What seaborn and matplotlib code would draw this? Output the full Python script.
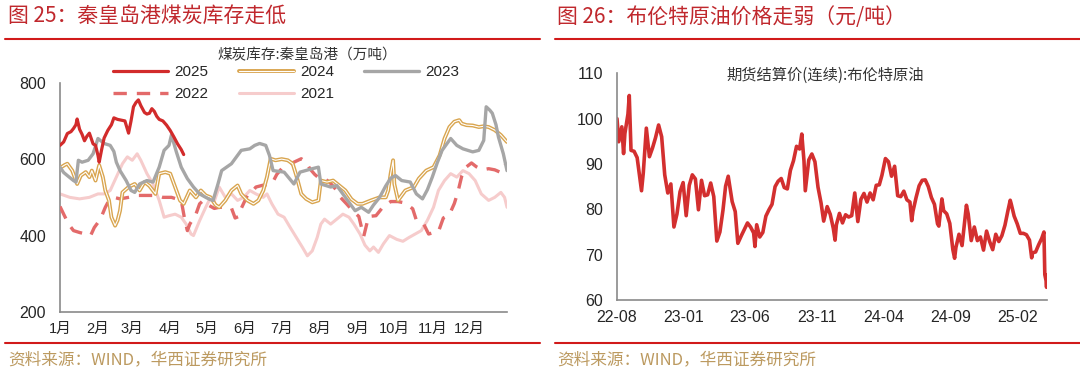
import pandas as pd
import numpy as np
import matplotlib
matplotlib.use('Agg')
import matplotlib.pyplot as plt
import matplotlib.patheffects as pe
from matplotlib.lines import Line2D
import seaborn as sns

sns.set_theme(style='white')
plt.rcParams['font.family'] = ['Liberation Sans', 'Noto Sans CJK SC', 'DejaVu Sans']

# ---- left chart: Qinhuangdao coal stock (10k t), by day of year ----
days_2025 = [0, 3, 6, 9, 11, 13, 14, 16, 18, 20, 22, 24, 27, 29, 31, 32, 34, 36, 39, 42, 44, 47, 50, 53, 56,
             58, 60, 62, 64, 66, 69, 71, 73, 75, 77, 79, 81, 84, 87, 90, 93, 96, 99, 101]
vals_2025 = [636, 645, 667, 672, 680, 690, 705, 678, 665, 648, 660, 668, 640, 636, 610, 592, 625, 655, 675, 690,
             708, 704, 702, 700, 668, 700, 737, 748, 755, 740, 722, 718, 720, 732, 725, 712, 704, 700, 689, 675,
             658, 640, 625, 612]

days_2024 = [1, 4, 6, 10, 14, 17, 21, 24, 26, 29, 32, 35, 37, 40, 42, 45, 47, 49, 51, 56, 61, 65, 69, 73, 78,
             81, 86, 90, 94, 98, 101, 106, 111, 115, 119, 123, 127, 130, 135, 140, 145, 148, 153, 158, 162,
             166, 169, 172, 176, 181, 186, 190, 193, 197, 201, 206, 211, 213, 218, 223, 228, 233, 238, 243,
             247, 254, 261, 266, 268, 270, 272, 273, 276, 282, 289, 293, 299, 305, 310, 314, 318, 322, 326,
             328, 332, 337, 342, 346, 350, 355, 360, 365]
vals_2024 = [579, 585, 588, 570, 535, 557, 566, 553, 570, 544, 584, 553, 518, 492, 448, 426, 440, 465, 513, 527,
             535, 518, 540, 530, 509, 562, 566, 562, 527, 492, 483, 518, 500, 518, 505, 500, 480, 474, 492, 518,
             531, 509, 492, 483, 492, 518, 553, 601, 597, 600, 597, 588, 557, 509, 496, 487, 492, 544, 540, 544,
             531, 518, 495, 483, 483, 492, 500, 500, 518, 562, 597, 535, 492, 518, 527, 549, 570, 579, 610, 654,
             684, 698, 702, 693, 689, 688, 684, 686, 684, 676, 663, 645]

days_2023 = [0, 3, 6, 11, 13, 15, 18, 23, 27, 31, 36, 41, 44, 46, 49, 54, 58, 61, 65, 71, 76, 81, 85, 89, 91,
             95, 99, 104, 109, 114, 119, 122, 125, 129, 132, 140, 148, 155, 159, 163, 168, 171, 174, 183, 191,
             196, 206, 211, 213, 221, 226, 233, 241, 246, 252, 256, 261, 266, 270, 274, 279, 286, 291, 296,
             300, 304, 308, 312, 319, 324, 329, 337, 342, 346, 348, 351, 353, 356, 358, 362, 365]
vals_2023 = [579, 565, 557, 544, 540, 597, 592, 597, 614, 654, 641, 636, 620, 592, 570, 544, 518, 513, 535, 544,
             540, 579, 623, 636, 663, 619, 579, 549, 527, 509, 500, 495, 492, 535, 570, 588, 623, 627, 636, 641,
             636, 610, 570, 566, 535, 566, 575, 579, 535, 527, 531, 500, 465, 474, 461, 480, 500, 530, 550, 557,
             544, 540, 509, 496, 520, 553, 590, 623, 654, 636, 627, 619, 623, 649, 737, 728, 720, 690, 658, 614,
             570]

days_2022 = [0, 3, 7, 11, 16, 21, 25, 28, 33, 37, 40, 44, 49, 56, 64, 71, 79, 84, 91, 99, 102, 104, 106, 111,
             114, 117, 121, 126, 130, 135, 140, 143, 146, 148, 153, 157, 160, 166, 173, 177, 181, 186, 191, 197,
             201, 204, 208, 212, 216, 220, 226, 229, 234, 239, 244, 248, 252, 258, 264, 270, 276, 282, 288, 291,
             297, 301, 305, 309, 313, 318, 322, 325, 328, 332, 336, 340, 345, 350, 355, 360, 363]
vals_2022 = [476, 456, 430, 413, 408, 404, 400, 421, 443, 474, 492, 500, 496, 500, 505, 505, 505, 500, 500, 492,
             439, 413, 430, 456, 483, 492, 480, 471, 474, 474, 472, 446, 450, 471, 505, 515, 527, 532, 535, 560,
             575, 583, 592, 601, 592, 575, 560, 549, 549, 540, 518, 500, 483, 465, 450, 398, 450, 452, 476, 489,
             489, 485, 470, 440, 430, 404, 408, 410, 446, 455, 484, 515, 555, 580, 590, 580, 572, 575, 572, 565,
             585]

days_2021 = [0, 8, 16, 24, 31, 36, 41, 46, 51, 55, 59, 63, 66, 71, 76, 81, 85, 89, 94, 99, 103, 107, 109, 114,
             119, 123, 126, 130, 135, 140, 145, 150, 155, 160, 166, 169, 173, 178, 183, 188, 193, 198, 202, 206,
             210, 213, 216, 221, 226, 231, 236, 240, 245, 249, 253, 256, 260, 264, 269, 275, 280, 285, 290, 295,
             300, 305, 309, 314, 319, 324, 329, 334, 339, 344, 350, 355, 360, 363, 365]
vals_2021 = [509, 500, 496, 500, 509, 509, 518, 553, 588, 606, 597, 614, 597, 562, 535, 492, 448, 452, 456, 448,
             430, 404, 400, 439, 474, 500, 490, 527, 500, 509, 492, 500, 518, 509, 500, 509, 483, 456, 448, 421,
             395, 369, 347, 360, 395, 430, 443, 430, 443, 456, 448, 430, 404, 375, 360, 370, 356, 378, 400, 390,
             385, 395, 404, 413, 440, 474, 518, 544, 562, 553, 570, 562, 544, 509, 492, 500, 513, 500, 474]

month_starts = [0, 31, 59, 90, 120, 151, 181, 212, 243, 273, 304, 334, 365]
month_labels = ['1月', '2月', '3月', '4月', '5月', '6月', '7月', '8月', '9月', '10月', '11月', '12月', '']

# ---- right chart: Brent futures settlement (continuous) ----
oil_dates = ['2022-08-01', '2022-08-05', '2022-08-12', '2022-08-16', '2022-08-19', '2022-08-26', '2022-08-29',
             '2022-09-02', '2022-09-09', '2022-09-16', '2022-09-23', '2022-09-26', '2022-09-30', '2022-10-07',
             '2022-10-14', '2022-10-21', '2022-10-28', '2022-11-04', '2022-11-11', '2022-11-18', '2022-11-25',
             '2022-12-02', '2022-12-09', '2022-12-16', '2022-12-23', '2022-12-30',
             '2023-01-06', '2023-01-13', '2023-01-20', '2023-01-27', '2023-02-03', '2023-02-10', '2023-02-17',
             '2023-02-24', '2023-03-03', '2023-03-10', '2023-03-17', '2023-03-24', '2023-03-31', '2023-04-06',
             '2023-04-12', '2023-04-21', '2023-04-28', '2023-05-04', '2023-05-12', '2023-05-19', '2023-05-26',
             '2023-06-02', '2023-06-09', '2023-06-12', '2023-06-16', '2023-06-23', '2023-06-30', '2023-07-07',
             '2023-07-14', '2023-07-21', '2023-07-28', '2023-08-04', '2023-08-11', '2023-08-18', '2023-08-25',
             '2023-09-01', '2023-09-08', '2023-09-15', '2023-09-22', '2023-09-27', '2023-10-02', '2023-10-05',
             '2023-10-13', '2023-10-20', '2023-10-27', '2023-11-03', '2023-11-10', '2023-11-16', '2023-11-24',
             '2023-12-01', '2023-12-08', '2023-12-12', '2023-12-15', '2023-12-22', '2023-12-29',
             '2024-01-05', '2024-01-12', '2024-01-19', '2024-01-26', '2024-02-02', '2024-02-09', '2024-02-16',
             '2024-02-23', '2024-03-01', '2024-03-08', '2024-03-15', '2024-03-22', '2024-03-28', '2024-04-05',
             '2024-04-12', '2024-04-19', '2024-04-26', '2024-05-03', '2024-05-10', '2024-05-17', '2024-05-24',
             '2024-05-31', '2024-06-04', '2024-06-07', '2024-06-14', '2024-06-21', '2024-06-28', '2024-07-05',
             '2024-07-12', '2024-07-19', '2024-07-26', '2024-08-02', '2024-08-05', '2024-08-12', '2024-08-16',
             '2024-08-23', '2024-08-30', '2024-09-06', '2024-09-10', '2024-09-13', '2024-09-20', '2024-09-27',
             '2024-10-04', '2024-10-07', '2024-10-11', '2024-10-18', '2024-10-25', '2024-11-01', '2024-11-08',
             '2024-11-15', '2024-11-22', '2024-11-29', '2024-12-06', '2024-12-13', '2024-12-20', '2024-12-27',
             '2025-01-03', '2025-01-10', '2025-01-15', '2025-01-17', '2025-01-24', '2025-01-31', '2025-02-07',
             '2025-02-14', '2025-02-21', '2025-02-28', '2025-03-05', '2025-03-07', '2025-03-14', '2025-03-21',
             '2025-03-28', '2025-04-02', '2025-04-03', '2025-04-04', '2025-04-07', '2025-04-08', '2025-04-09']
oil_prices = [100.0, 94.9, 98.2, 92.3, 96.7, 101.0, 105.1,
              93.0, 92.8, 91.4, 86.2, 84.1, 88.0, 97.9,
              91.6, 93.5, 95.8, 98.6, 96.0, 87.6, 83.6,
              85.6, 76.1, 79.0, 83.9, 85.9,
              78.6, 85.3, 87.6, 86.7, 79.9, 86.4, 83.0,
              83.2, 85.8, 82.8, 73.0, 75.0, 79.8, 85.1,
              87.3, 81.7, 79.5, 72.5, 74.2, 75.6, 77.0,
              76.1, 74.8, 71.8, 76.6, 73.9, 74.9, 78.5,
              79.9, 81.1, 85.0, 86.2, 86.8, 84.8, 84.5,
              88.6, 90.7, 93.9, 93.3, 96.6, 90.7, 84.1,
              90.9, 92.2, 90.5, 84.9, 81.4, 77.4, 80.6,
              78.9, 75.8, 73.2, 76.6, 79.1, 77.0,
              78.8, 78.3, 78.6, 83.6, 77.3, 82.2, 83.5,
              81.6, 83.6, 82.1, 85.3, 85.4, 87.5, 91.2,
              90.5, 87.3, 89.5, 83.0, 82.8, 84.0, 82.1,
              81.6, 77.5, 79.6, 82.6, 85.2, 86.4, 86.5,
              85.0, 82.6, 81.1, 76.8, 76.3, 82.3, 79.7,
              79.0, 76.9, 71.1, 69.2, 71.6, 74.5, 72.0,
              78.1, 80.9, 79.0, 73.1, 76.1, 73.1, 73.9,
              71.0, 75.2, 72.9, 71.1, 74.5, 72.9, 74.2,
              76.5, 79.8, 82.0, 81.3, 78.5, 76.8, 74.7,
              74.7, 74.4, 73.2, 69.3, 70.4, 70.6, 72.2,
              73.6, 75.0, 70.1, 65.6, 64.2, 62.8, 65.5]
oil_ticks = ['2022-08-01', '2023-01-01', '2023-06-01', '2023-11-01', '2024-04-01', '2024-09-01', '2025-02-01']
oil_tick_labels = ['22-08', '23-01', '23-06', '23-11', '24-04', '24-09', '25-02']

years = ['2025', '2024', '2023', '2022', '2021']
colors = {'2025': '#d22b2b', '2024': 'white', '2023': '#a6a6a6', '2022': '#e36a6a', '2021': '#f6cccc'}
gold = '#d9a54f'
cjk = ['Noto Sans CJK SC', 'DejaVu Sans']
title_red = '#c0282d'
src_color = '#bc9a60'
axis_gray = '#8a8a8a'

coal = pd.concat([
    pd.DataFrame({'day': d, 'stock': v, 'year': y})
    for y, d, v in [('2025', days_2025, vals_2025), ('2024', days_2024, vals_2024),
                    ('2023', days_2023, vals_2023), ('2022', days_2022, vals_2022),
                    ('2021', days_2021, vals_2021)]
])
oil = pd.DataFrame({'date': pd.to_datetime(oil_dates), 'price': oil_prices})

W, H = 1080, 376
fig = plt.figure(figsize=(W / 100, H / 100), dpi=100)


def fx(px):
    return px / W


def fy(py):
    return 1 - py / H


# ---------------- left chart ----------------
ax1 = fig.add_axes([fx(60), fy(312), fx(507 - 60), (312 - 82.7) / H])
draw_order = ['2021', '2022', '2024', '2023', '2025']
sns.lineplot(data=coal, x='day', y='stock', hue='year', hue_order=draw_order,
             palette=colors, style='year', style_order=draw_order,
             dashes={'2021': '', '2022': (4, 3), '2024': '', '2023': '', '2025': ''},
             estimator=None, errorbar=None, legend=False, ax=ax1)
lines = dict(zip(draw_order, ax1.get_lines()))
widths = {'2021': 2.2, '2022': 2.4, '2024': 0.8, '2023': 2.4, '2025': 2.3}
for i, y in enumerate(draw_order):
    lines[y].set_linewidth(widths[y])
    lines[y].set_zorder(2 + i)
lines['2024'].set_path_effects([pe.Stroke(linewidth=2.8, foreground=gold), pe.Normal()])

ax1.set_xlim(0, 365)
ax1.set_ylim(200, 800)
ax1.set_yticks([200, 400, 600, 800])
ax1.set_xticks(month_starts)
ax1.set_xticklabels(month_labels)
ax1.set_xlabel('')
ax1.set_ylabel('')
ax1.tick_params(axis='x', direction='in', length=4, width=1, color=axis_gray, labelsize=10.5, pad=7)
ax1.tick_params(axis='y', direction='in', length=4, width=1, color=axis_gray, labelsize=11.5, pad=10)
for s in ['top', 'right']:
    ax1.spines[s].set_visible(False)
for s in ['left', 'bottom']:
    ax1.spines[s].set_color(axis_gray)
    ax1.spines[s].set_linewidth(1.2)

leg_order = ['2025', '2022', '2024', '2021', '2023']
leg = ax1.legend([lines[y] for y in leg_order], leg_order, ncol=3, frameon=False,
                 loc='upper left', bbox_to_anchor=(fx(113), fy(65)), bbox_transform=fig.transFigure,
                 fontsize=11, handlelength=3.6, handletextpad=0.4, columnspacing=2.0,
                 labelspacing=0.55, borderpad=0, borderaxespad=0)
fig.text(fx(307), fy(55), '煤炭库存:秦皇岛港（万吨）', ha='center', va='center',
         fontsize=10.5, color='#333333', family=cjk)

# ---------------- right chart ----------------
ax2 = fig.add_axes([fx(617), fy(300), fx(1047 - 617), (300 - 73.3) / H])
sns.lineplot(data=oil, x='date', y='price', color='#d32f2f', linewidth=2.6, ax=ax2)
ax2.set_xlim(pd.Timestamp('2022-08-01'), pd.Timestamp('2025-04-09'))
ax2.set_ylim(60, 110)
ax2.set_yticks([60, 70, 80, 90, 100, 110])
ax2.set_xticks(pd.to_datetime(oil_ticks))
ax2.set_xticklabels(oil_tick_labels)
ax2.set_xlabel('')
ax2.set_ylabel('')
ax2.tick_params(axis='x', direction='in', length=4, width=1, color=axis_gray, labelsize=11.5, pad=7)
ax2.tick_params(axis='y', direction='in', length=4, width=1, color=axis_gray, labelsize=11.5, pad=10)
for s in ['top', 'right']:
    ax2.spines[s].set_visible(False)
for s in ['left', 'bottom']:
    ax2.spines[s].set_color(axis_gray)
    ax2.spines[s].set_linewidth(1.2)
fig.text(fx(825), fy(75), '期货结算价(连续):布伦特原油', ha='center', va='center',
         fontsize=11, color='#333333', family=cjk)

# ---------------- headers, rules, sources ----------------
fig.text(fx(8), fy(17), '图 25：秦皇岛港煤炭库存走低', ha='left', va='center',
         fontsize=15, color=title_red, family=cjk)
fig.text(fx(557), fy(17), '图 26：布伦特原油价格走弱（元/吨）', ha='left', va='center',
         fontsize=15, color=title_red, family=cjk)
for x0, x1 in [(5, 540), (555, 1080)]:
    fig.add_artist(Line2D([fx(x0), fx(x1)], [fy(39), fy(39)], color='#d11a1a', lw=1.5))
    fig.add_artist(Line2D([fx(x0), fx(x1)], [fy(343), fy(343)], color='#d11a1a', lw=1.5))
fig.text(fx(8), fy(360), '资料来源：WIND，华西证券研究所', ha='left', va='center',
         fontsize=12, color=src_color, family=cjk)
fig.text(fx(557), fy(360), '资料来源：WIND，华西证券研究所', ha='left', va='center',
         fontsize=12, color=src_color, family=cjk)

fig.savefig('out.png', dpi=100)
